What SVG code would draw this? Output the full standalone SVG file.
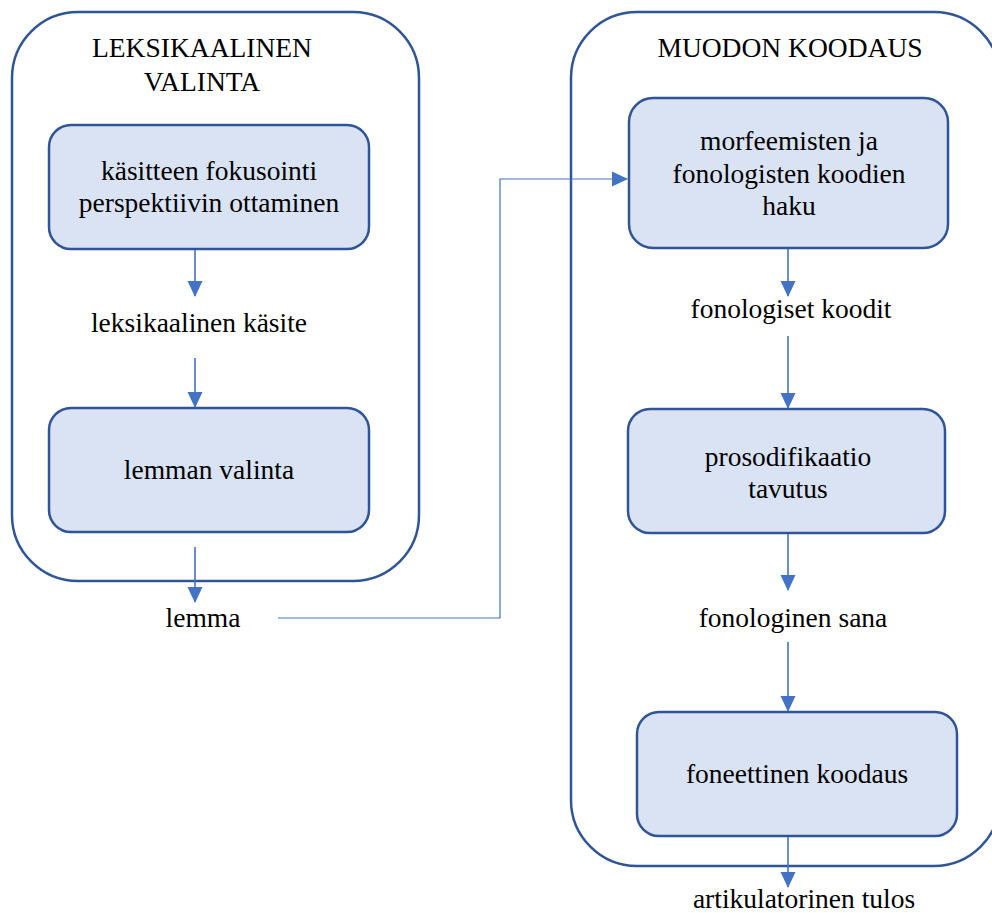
<svg xmlns="http://www.w3.org/2000/svg" width="992" height="913" viewBox="0 0 992 913">
<defs>
<marker id="ah" markerUnits="userSpaceOnUse" markerWidth="16" markerHeight="16" viewBox="0 0 16 16" refX="15" refY="8" orient="auto">
<path d="M0,0.5 L16,8 L0,15.5 Z" fill="#4472C4"/>
</marker>
<style>
.outer{fill:#FFFFFF;stroke:#2F5597;stroke-width:2.5}
.box{fill:#DAE3F3;stroke:#2F5597;stroke-width:2.5}
.t{font-size:27.5px;fill:#000;text-anchor:middle}
.c{fill:none;stroke:#4472C4;stroke-width:1.6;marker-end:url(#ah)}
.c2{fill:none;stroke:#4472C4;stroke-width:1.2;marker-end:url(#ah)}
</style>
</defs>
<rect width="992" height="913" fill="#FFFFFF"/>
<g font-family="Liberation Serif, DejaVu Serif, serif">
<g id="group-leksikaalinen">
<rect class="outer" x="12" y="12" width="407" height="569" rx="66" ry="66"/>
<text class="t" x="202" y="57">LEKSIKAALINEN</text>
<text class="t" x="202" y="91">VALINTA</text>
</g>
<g id="group-muodon">
<rect class="outer" x="571" y="12" width="429" height="854" rx="66" ry="66"/>
<text class="t" x="790" y="57">MUODON KOODAUS</text>
</g>
<g id="node-kasitteen">
<rect class="box" x="49" y="125" width="320" height="124" rx="22" ry="22"/>
<text class="t" x="209" y="180">käsitteen fokusointi</text>
<text class="t" x="209" y="212">perspektiivin ottaminen</text>
</g>
<g id="label-kasite">
<text class="t" x="199" y="332">leksikaalinen käsite</text>
</g>
<g id="node-lemman">
<rect class="box" x="49" y="408" width="320" height="124" rx="22" ry="22"/>
<text class="t" x="209" y="479">lemman valinta</text>
</g>
<g id="label-lemma">
<text class="t" x="203" y="627">lemma</text>
</g>
<g id="node-morfeemisten">
<rect class="box" x="629" y="98" width="319" height="150" rx="24" ry="24"/>
<text class="t" x="789" y="150">morfeemisten ja</text>
<text class="t" x="789" y="183">fonologisten koodien</text>
<text class="t" x="789" y="215">haku</text>
</g>
<g id="label-fonologiset">
<text class="t" x="791" y="318">fonologiset koodit</text>
</g>
<g id="node-prosodifikaatio">
<rect class="box" x="628" y="409" width="317" height="124" rx="22" ry="22"/>
<text class="t" x="788" y="466">prosodifikaatio</text>
<text class="t" x="788" y="498">tavutus</text>
</g>
<g id="label-sana">
<text class="t" x="793" y="627">fonologinen sana</text>
</g>
<g id="node-foneettinen">
<rect class="box" x="637" y="712" width="320" height="124" rx="22" ry="22"/>
<text class="t" x="797" y="783">foneettinen koodaus</text>
</g>
<g id="label-tulos">
<text class="t" x="804" y="908">artikulatorinen tulos</text>
</g>
</g>
<g id="connectors">
<path class="c" d="M195,250 L195,296"/>
<path class="c" d="M195,358 L195,407"/>
<path class="c" d="M195,547 L195,602"/>
<path class="c2" d="M278,618 L500,618 L500,179 L627,179"/>
<path class="c" d="M788,249 L788,296"/>
<path class="c" d="M788,336 L788,408"/>
<path class="c" d="M788,534 L788,590"/>
<path class="c" d="M788,642 L788,711"/>
<path class="c" d="M788,837 L788,887"/>
</g>
</svg>
